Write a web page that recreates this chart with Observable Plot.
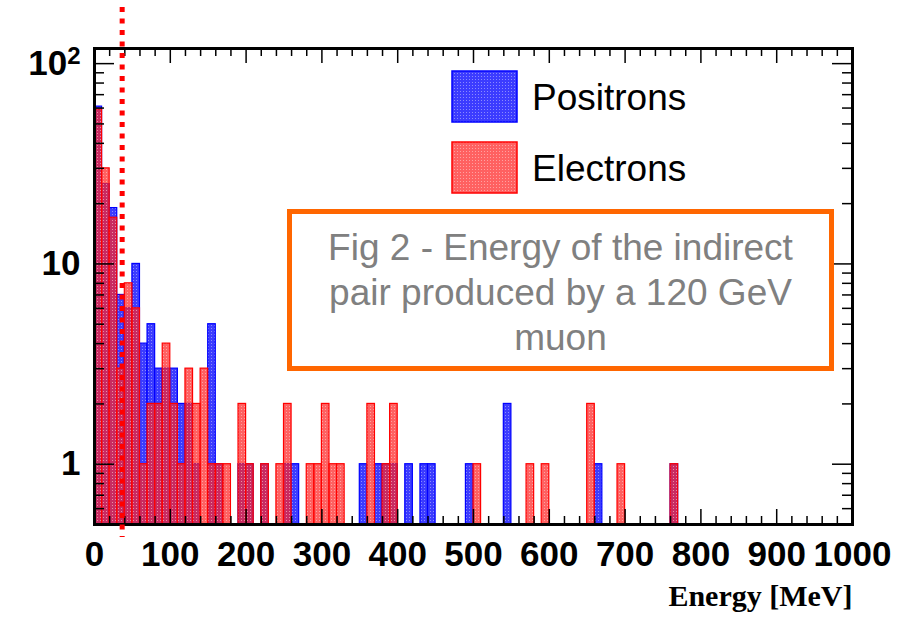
<!DOCTYPE html>
<html><head><meta charset="utf-8">
<script src="https://cdn.jsdelivr.net/npm/d3@7"></script>
<script src="https://cdn.jsdelivr.net/npm/@observablehq/plot@0.6"></script>
<style>
body{margin:0;background:#fff;}
#wrap{position:relative;width:905px;height:621px;font-family:"Liberation Sans",Arial,sans-serif;overflow:hidden;}
#wrap svg{position:absolute;left:0;top:0;}
.lt{position:absolute;font-size:37px;color:#000;line-height:1;white-space:nowrap;}
#note{position:absolute;left:287px;top:209px;width:547px;height:162px;box-sizing:border-box;border:5px solid #ff6600;color:#808080;font-size:37px;line-height:45px;text-align:center;padding-top:11px;white-space:nowrap;}
</style></head><body><div id="wrap"></div>
<script>
// ---- data ----
const binWidth = 10; // MeV
const positronBins   = [0,10,20,30,40,50,60,70,80,90,100,110,120,130,150,160,190,200,220,250,260,350,370,380,390,410,430,440,490,540,660,760];
const positronCounts = [61,25,19,7,6,10,4,5,3,3,3,2,2,1,5,1,1,1,1,1,1,1,1,1,1,1,1,1,1,2,1,1];
const electronBins   = [0,10,20,30,40,50,60,70,80,90,100,110,120,130,140,150,160,170,190,200,220,240,250,280,290,300,310,320,360,380,390,500,570,590,650,690,760];
const electronCounts = [59,30,17,3,8,6,1,2,2,4,2,1,3,2,3,1,1,1,2,1,1,1,2,1,1,2,1,1,2,1,2,1,1,1,2,1,1];
const cutEnergy = [36.5];
const seriesNames = ["Positrons", "Electrons"];
const seriesFill = ["#3c3cff", "#ff2424"];
const seriesStroke = ["#0000ff", "#ff0000"];
const xTicks = [0,100,200,300,400,500,600,700,800,900,1000];
const xTickLabels = ["0","100","200","300","400","500","600","700","800","900","1000"];
const yTicks = [1,10,100];
const yTickLabels = ["1","10","10^2"];
const yMinorTicks = [0.6,0.7,0.8,0.9,2,3,4,5,6,7,8,9,20,30,40,50,60,70,80,90];
const xMinorTicks = d3.range(0, 1001, 20).filter(v => v % 100 !== 0);
const xLabel = "Energy [MeV]";
const noteText = ["Fig 2 - Energy of the indirect", "pair produced by a 120 GeV", "muon"];
const yDomain = [0.5, 119];

const positrons = positronBins.map((b, i) => ({x1: b, x2: b + binWidth, count: positronCounts[i]}));
const electrons = electronBins.map((b, i) => ({x1: b, x2: b + binWidth, count: electronCounts[i]}));

const W = 905, H = 621, mL = 94, mR = 53, mT = 48, mB = 97;
const PW = W - mL - mR, PH = H - mT - mB;
const bold = {fontFamily: "Liberation Sans, Arial, sans-serif", fontWeight: "bold", fontSize: 35};

const chart = Plot.plot({
  width: W, height: H,
  marginLeft: mL, marginRight: mR, marginTop: mT, marginBottom: mB,
  x: {domain: [0, 1000], axis: null},
  y: {type: "log", domain: yDomain, axis: null},
  style: {background: "transparent", overflow: "visible"},
  marks: [
    Plot.rect(positrons, {x1: "x1", x2: "x2", y1: yDomain[0], y2: "count", fill: seriesFill[0], stroke: seriesStroke[0], strokeWidth: 1.2}),
    Plot.rect(electrons, {x1: "x1", x2: "x2", y1: yDomain[0], y2: "count", fill: seriesFill[1], fillOpacity: 0.72, stroke: seriesStroke[1], strokeWidth: 1.2}),
    // ticks inward on all four sides
    Plot.ruleX(xTicks, {insetTop: PH - 15, stroke: "#000", strokeWidth: 1.5}),
    Plot.ruleX(xMinorTicks, {insetTop: PH - 8, stroke: "#000", strokeWidth: 1.5}),
    Plot.ruleX(xTicks, {insetBottom: PH - 15, stroke: "#000", strokeWidth: 1.5}),
    Plot.ruleX(xMinorTicks, {insetBottom: PH - 8, stroke: "#000", strokeWidth: 1.5}),
    Plot.ruleY(yTicks, {insetRight: PW - 20, stroke: "#000", strokeWidth: 1.5}),
    Plot.ruleY(yMinorTicks, {insetRight: PW - 10, stroke: "#000", strokeWidth: 1.5}),
    Plot.ruleY(yTicks, {insetLeft: PW - 20, stroke: "#000", strokeWidth: 1.5}),
    Plot.ruleY(yMinorTicks, {insetLeft: PW - 10, stroke: "#000", strokeWidth: 1.5}),
    Plot.frame({stroke: "#000", strokeWidth: 3}),
    Plot.axisX({anchor: "bottom", ticks: xTicks, tickSize: 0, tickPadding: 17, tickFormat: d => xTickLabels[xTicks.indexOf(d)], label: null, ...bold}),
    Plot.axisY({anchor: "left", ticks: yTicks, tickSize: 0, tickPadding: 14, tickFormat: d => yTickLabels[yTicks.indexOf(d)], label: null, ...bold}),
    Plot.text([xLabel], {frameAnchor: "bottom-right", dy: 81, textAnchor: "end", fontFamily: "Liberation Serif, Times New Roman, serif", fontWeight: "bold", fontSize: 30, fill: "#000"}),
    Plot.ruleX(cutEnergy, {insetTop: -41, insetBottom: -13, stroke: "#ff0000", strokeWidth: 5, strokeDasharray: "5,6.5"})
  ]
});
const wrap = document.getElementById("wrap");
wrap.appendChild(chart);

// dotted (ROOT-like) fill patterns
const svg = d3.select(chart);
const defs = svg.insert("defs", ":first-child");
function pattern(id, base, opacity) {
  const p = defs.append("pattern").attr("id", id).attr("width", 3).attr("height", 3).attr("patternUnits", "userSpaceOnUse");
  p.append("rect").attr("width", 3).attr("height", 3).attr("fill", base).attr("fill-opacity", opacity);
  p.append("rect").attr("x", 1).attr("y", 1).attr("width", 1).attr("height", 1).attr("fill", "#fff").attr("fill-opacity", 0.4);
}
pattern("pat-pos", seriesFill[0], 1);
pattern("pat-ele", seriesFill[1], 0.72);
const rectGroups = svg.selectAll('g[aria-label="rect"]').nodes();
if (rectGroups.length === 2) {
  d3.select(rectGroups[0]).attr("fill", "url(#pat-pos)");
  d3.select(rectGroups[1]).attr("fill", "url(#pat-ele)").attr("fill-opacity", null);
}
// superscript exponent on the y labels
svg.selectAll('g[aria-label="y-axis tick label"] text').each(function() {
  const t = this.textContent;
  if (t.includes("^")) {
    const [base, exp] = t.split("^");
    const el = d3.select(this);
    el.text(base);
    el.append("tspan").attr("dy", "-0.45em").attr("font-size", "24").text(exp);
  }
});

// legend
const legendTop = [71, 142];
const legendFill = ["url(#pat-pos)", "url(#pat-ele)"];
seriesNames.forEach((name, i) => {
  const sw = document.createElementNS("http://www.w3.org/2000/svg", "rect");
  d3.select(sw).attr("x", 452).attr("y", legendTop[i]).attr("width", 65).attr("height", 51)
    .attr("fill", legendFill[i]).attr("stroke", seriesStroke[i]).attr("stroke-width", 1.5);
  chart.appendChild(sw);
  const t = document.createElement("div");
  t.className = "lt";
  t.textContent = name;
  Object.assign(t.style, {left: "532px", top: (legendTop[i] + 8) + "px"});
  wrap.appendChild(t);
});
const note = document.createElement("div");
note.id = "note";
note.innerHTML = noteText.join("<br>");
wrap.appendChild(note);
</script>
</body></html>
